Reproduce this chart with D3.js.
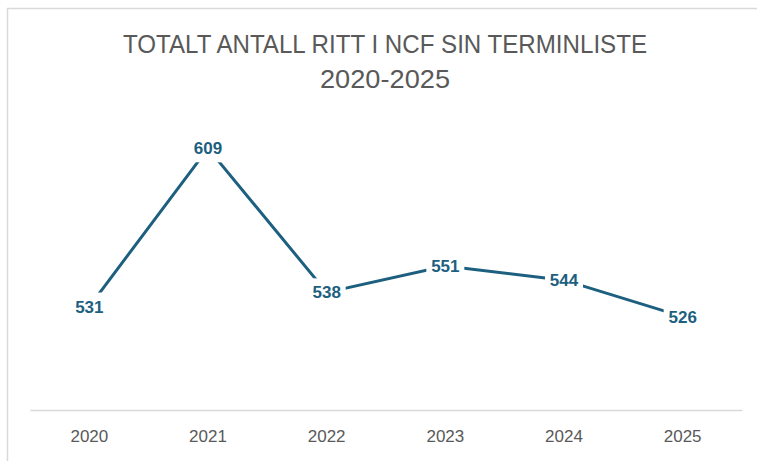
<!DOCTYPE html>
<html>
<head>
<meta charset="utf-8">
<script src="https://cdn.jsdelivr.net/npm/d3@7"></script>
<style>
  body { margin: 0; background: #fff; }
  svg { display: block; font-family: "Liberation Sans", Arial, sans-serif; }
</style>
</head>
<body>
<div id="chart"></div>
<script>
// data
const years = ["2020", "2021", "2022", "2023", "2024", "2025"];
const rides = [531, 609, 538, 551, 544, 526];
const titleLines = ["TOTALT ANTALL RITT I NCF SIN TERMINLISTE", "2020-2025"];

let width = 757,
    height = 461,
    margin = ({ top: 126, right: 15, bottom: 51, left: 30 });

const data = years.map((y, i) => ({ year: y, value: rides[i] }));

const svg = d3.select("#chart")
  .append("svg")
  .attr("width", width)
  .attr("height", height);

// chart frame (only top + left edge visible in the crop)
svg.append("path")
  .attr("d", `M7.5,${height} V8.5 H${width}`)
  .attr("fill", "none")
  .attr("stroke", "#d9d9d9")
  .attr("stroke-width", 1.5);

// title - narrow face, squeezed to the width of the original
svg.append("g")
  .selectAll("text")
  .data(titleLines)
  .join("text")
  .attr("x", 385)
  .attr("y", (d, i) => 53 + i * 35)
  .attr("text-anchor", "middle")
  .attr("fill", "#595959")
  .attr("font-family", "'Liberation Sans Narrow', 'Arial Narrow', sans-serif")
  .attr("font-size", 25)
  .attr("textLength", (d, i) => i == 0 ? 524 : 130)
  .attr("lengthAdjust", "spacingAndGlyphs")
  .text(d => d);

let x = d3.scaleBand()
  .domain(years)
  .range([margin.left, width - margin.right]);

let y = d3.scaleLinear()
  .domain([480, 620])
  .range([height - margin.bottom, margin.top]);

// x axis
const xAxis = svg.append("g")
  .attr("transform", `translate(0,${height - margin.bottom})`)
  .call(d3.axisBottom(x).tickSize(0).tickPadding(20));
xAxis.select(".domain").attr("stroke", "#d9d9d9").attr("stroke-width", 1.5);
xAxis.selectAll("text")
  .attr("fill", "#595959")
  .attr("font-size", 17)
  .attr("font-family", "inherit");

// line
const line = d3.line()
  .x(d => x(d.year) + x.bandwidth() / 2)
  .y(d => y(d.value));

svg.append("path")
  .datum(data)
  .attr("fill", "none")
  .attr("stroke", "#1d5f7f")
  .attr("stroke-width", 3)
  .attr("d", line);

// data labels, centered on points with white box behind
const labels = svg.append("g")
  .selectAll("g")
  .data(data)
  .join("g")
  .attr("transform", d => `translate(${x(d.year) + x.bandwidth() / 2},${y(d.value)})`);

labels.append("rect")
  .attr("x", -19)
  .attr("y", -14)
  .attr("width", 38)
  .attr("height", 28)
  .attr("fill", "#fff");

labels.append("text")
  .attr("text-anchor", "middle")
  .attr("dy", "0.36em")
  .attr("fill", "#1d5f7f")
  .attr("font-weight", "bold")
  .attr("font-size", 17)
  .text(d => d.value);
</script>
</body>
</html>
